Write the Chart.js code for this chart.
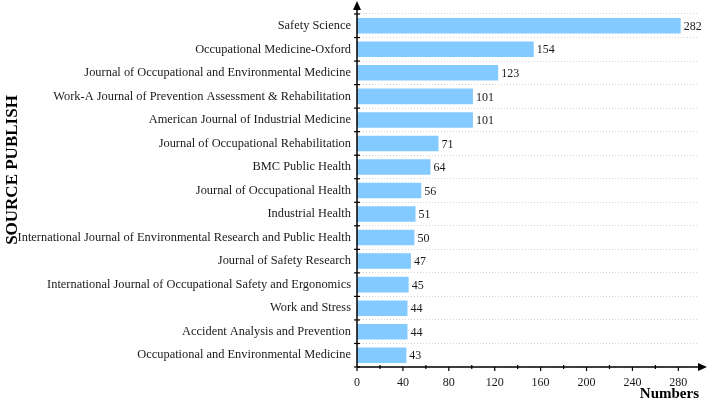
<!DOCTYPE html>
<html>
<head>
<meta charset="utf-8">
<script src="https://cdn.jsdelivr.net/npm/chart.js@4"></script>
<style>
  html, body { margin: 0; padding: 0; background: #fff; }
  #wrap { width: 708px; height: 403px; }
</style>
</head>
<body>
<div id="wrap"><canvas id="sourceChart"></canvas></div>
<script>
const journals = [
  "Safety Science",
  "Occupational Medicine-Oxford",
  "Journal of Occupational and Environmental Medicine",
  "Work-A Journal of Prevention Assessment & Rehabilitation",
  "American Journal of Industrial Medicine",
  "Journal of Occupational Rehabilitation",
  "BMC Public Health",
  "Journal of Occupational Health",
  "Industrial Health",
  "International Journal of Environmental Research and Public Health",
  "Journal of Safety Research",
  "International Journal of Occupational Safety and Ergonomics",
  "Work and Stress",
  "Accident Analysis and Prevention",
  "Occupational and Environmental Medicine"
];
const counts = [282, 154, 123, 101, 101, 71, 64, 56, 51, 50, 47, 45, 44, 44, 43];
const xTicks = [0, 40, 80, 120, 160, 200, 240, 280];

const serif = "'Liberation Serif', 'Times New Roman', serif";
const ink = "#1a1a1a";

// value labels at the end of each bar
const valueLabels = {
  id: "valueLabels",
  afterDatasetsDraw(chart) {
    const ctx = chart.ctx;
    const meta = chart.getDatasetMeta(0);
    ctx.save();
    ctx.font = "12px " + serif;
    ctx.fillStyle = ink;
    ctx.textAlign = "left";
    ctx.textBaseline = "middle";
    meta.data.forEach((bar, i) => {
      ctx.fillText(String(counts[i]), bar.x + 3, bar.y + 1);
    });
    ctx.restore();
  }
};

// axis lines with arrows, tick marks and the rotated y title
const axesWithArrows = {
  id: "axesWithArrows",
  afterDraw(chart) {
    const ctx = chart.ctx;
    const area = chart.chartArea;
    const x = chart.scales.x;
    const x0 = x.getPixelForValue(0);
    ctx.save();
    ctx.strokeStyle = "#000";
    ctx.fillStyle = "#000";
    ctx.lineWidth = 1.5;

    // y axis line
    ctx.beginPath();
    ctx.moveTo(x0, area.bottom);
    ctx.lineTo(x0, 8);
    ctx.stroke();
    ctx.beginPath();
    ctx.moveTo(x0, 1);
    ctx.lineTo(x0 - 4, 10);
    ctx.lineTo(x0 + 4, 10);
    ctx.closePath();
    ctx.fill();

    // x axis line
    ctx.beginPath();
    ctx.moveTo(x0, area.bottom);
    ctx.lineTo(area.right, area.bottom);
    ctx.stroke();
    ctx.beginPath();
    ctx.moveTo(area.right + 8, area.bottom);
    ctx.lineTo(area.right - 1, area.bottom - 4);
    ctx.lineTo(area.right - 1, area.bottom + 4);
    ctx.closePath();
    ctx.fill();

    // y ticks at category boundaries
    ctx.lineWidth = 1.2;
    const step = (area.bottom - area.top) / journals.length;
    for (let i = 0; i <= journals.length; i++) {
      const py = area.top + i * step;
      ctx.beginPath();
      ctx.moveTo(x0 - 3, py);
      ctx.lineTo(x0 + 3, py);
      ctx.stroke();
    }

    // x ticks: major every 40, minor every 20
    xTicks.forEach(v => {
      const px = x.getPixelForValue(v);
      ctx.beginPath();
      ctx.moveTo(px, area.bottom);
      ctx.lineTo(px, area.bottom + 4);
      ctx.stroke();
      const pm = x.getPixelForValue(v + 20);
      ctx.beginPath();
      ctx.moveTo(pm, area.bottom - 2);
      ctx.lineTo(pm, area.bottom + 2);
      ctx.stroke();
    });

    // y axis title
    ctx.translate(13, 170);
    ctx.rotate(-Math.PI / 2);
    ctx.font = "bold 17px " + serif;
    ctx.textAlign = "center";
    ctx.textBaseline = "middle";
    ctx.fillText("SOURCE PUBLISH", 0, 0);
    ctx.restore();
  }
};

const ctx = document.getElementById("sourceChart").getContext("2d");
const sourceChart = new Chart(ctx, {
  type: "bar",
  data: {
    labels: journals,
    datasets: [
      {
        data: counts,
        backgroundColor: "#82CAFF",
        borderWidth: 0,
        categoryPercentage: 1,
        barPercentage: 0.66
      }
    ]
  },
  options: {
    indexAxis: "y",
    responsive: true,
    maintainAspectRatio: false,
    animation: false,
    layout: {
      padding: { top: 14, right: 9, left: 0, bottom: 0 }
    },
    plugins: {
      legend: { display: false },
      tooltip: { enabled: false }
    },
    scales: {
      x: {
        min: 0,
        max: 298,
        afterBuildTicks: scale => {
          scale.ticks = xTicks.map(v => ({ value: v }));
        },
        afterFit: scale => {
          scale.height = 36;
        },
        grid: { display: false, drawTicks: false },
        border: { display: false },
        ticks: {
          padding: 9,
          font: { family: serif, size: 12 },
          color: ink
        },
        title: {
          display: true,
          text: "Numbers",
          align: "end",
          padding: { top: 0, bottom: 0 },
          font: { family: serif, size: 15, weight: "bold" },
          color: "#000"
        }
      },
      y: {
        afterFit: scale => {
          scale.width = 357;
        },
        grid: {
          offset: true,
          drawTicks: false,
          color: "#d4d4d4",
          lineWidth: 1
        },
        border: { display: false, dash: [1, 2] },
        ticks: {
          padding: 6,
          autoSkip: false,
          font: { family: serif, size: 12.4 },
          color: ink
        }
      }
    }
  },
  plugins: [valueLabels, axesWithArrows]
});
</script>
</body>
</html>
